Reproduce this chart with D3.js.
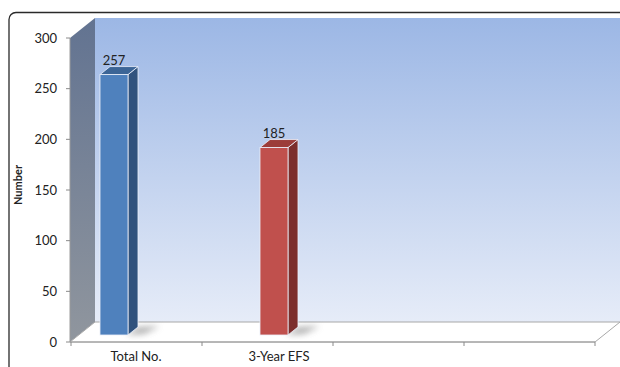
<!DOCTYPE html>
<html><head><meta charset="utf-8">
<script src="https://cdn.jsdelivr.net/npm/d3@7"></script>
<style>body{margin:0;background:#fff}svg{display:block}text{font-family:Lato,"Liberation Sans",sans-serif;fill:#222}</style>
</head><body>
<script>
const categories = ["Total No.", "3-Year EFS"];
const axisCategories = ["Total No.", "3-Year EFS", "", ""];
const values = [257, 185];
const barColors = [
  {front:"#4f81bd", side:"#30527d", top:"#3c6596"},
  {front:"#c0504d", side:"#7c2e2c", top:"#9c3c39"}
];
const yTicks = [0, 50, 100, 150, 200, 250, 300];
const yTitle = "Number";

const W = 620, H = 367;
const svg = d3.select("body").append("svg").attr("width", W).attr("height", H);
const defs = svg.append("defs");

const wallG = defs.append("linearGradient").attr("id","wall").attr("x1",0).attr("y1",0).attr("x2",0).attr("y2",1);
wallG.append("stop").attr("offset","0%").attr("stop-color","#9cb7e5");
wallG.append("stop").attr("offset","100%").attr("stop-color","#e6ecf8");
const sideG = defs.append("linearGradient").attr("id","side").attr("x1",0).attr("y1",0).attr("x2",0).attr("y2",1);
sideG.append("stop").attr("offset","0%").attr("stop-color","#627391");
sideG.append("stop").attr("offset","100%").attr("stop-color","#90969e");
defs.append("filter").attr("id","blur").attr("x","-50%").attr("y","-50%").attr("width","200%").attr("height","200%")
  .append("feGaussianBlur").attr("stdDeviation",3);

// 3D projection parameters
const DX = 25, DY = -20;           // wall depth
const x0 = 70, x1 = 595;           // front floor edge
const y = d3.scaleLinear().domain([0, 300]).range([342, 38]);
const xAxisScale = d3.scaleBand().domain(axisCategories.map((d,i)=>i)).range([x0+1, x1]);
const xBar = d3.scalePoint().domain(categories).range([105.25, 265.25]);
const labelX = d3.scalePoint().domain(categories).range([136, 279]);
const depthF = 0.35, barW = 28, bdx = 10, bdy = -8;

// frame
svg.append("rect").attr("x",9).attr("y",12.5).attr("width",700).attr("height",420).attr("rx",7)
  .attr("fill","#fff").attr("stroke","#2a2a2a").attr("stroke-width",1.3);

// back wall
svg.append("rect").attr("x", x0+DX).attr("y", y(300)+DY).attr("width", W - (x0+DX)).attr("height", y(0)-y(300))
  .attr("fill","url(#wall)");
// side wall
svg.append("polygon").attr("points", [[x0,y(0)],[x0,y(300)],[x0+DX,y(300)+DY],[x0+DX,y(0)+DY]].join(" "))
  .attr("fill","url(#side)");
// floor
svg.append("polygon").attr("points", [[x0,y(0)],[x1,y(0)],[x1+DX,y(0)+DY],[x0+DX,y(0)+DY]].join(" "))
  .attr("fill","#ffffff").attr("stroke","#a8a8a8").attr("stroke-width",1);

// shadows
svg.append("g").selectAll("polygon").data(categories).join("polygon")
  .attr("points",(d)=>{
    const fx = xBar(d) + depthF*DX + barW/2, fy = y(0) + depthF*DY;
    return [[fx-2,fy],[fx+bdx,fy+bdy],[fx+bdx+22,fy+bdy-1],[fx+16,fy-1]].join(" ");
  })
  .attr("fill","#808080").attr("opacity",0.6).attr("filter","url(#blur)");

// bars
const bars = svg.append("g").selectAll("g").data(categories).join("g");
bars.each(function(d,i){
  const g = d3.select(this);
  const fl = xBar(d) + depthF*DX - barW/2, fr = fl + barW;
  const fb = y(0) + depthF*DY, ft = y(values[i]) + depthF*DY;
  const c = barColors[i];
  const st = "rgba(235,240,250,0.9)";
  g.append("polygon").attr("points",[[fr,fb],[fr,ft],[fr+bdx,ft+bdy],[fr+bdx,fb+bdy]].join(" "))
    .attr("fill",c.side).attr("stroke",st).attr("stroke-width",0.9);
  g.append("polygon").attr("points",[[fl,ft],[fr,ft],[fr+bdx,ft+bdy],[fl+bdx,ft+bdy]].join(" "))
    .attr("fill",c.top).attr("stroke",st).attr("stroke-width",0.9);
  g.append("rect").attr("x",fl).attr("y",ft).attr("width",barW).attr("height",fb-ft)
    .attr("fill",c.front).attr("stroke",st).attr("stroke-width",0.9);
  g.append("text").attr("x",(fl+fr)/2).attr("y",ft+bdy-2).attr("text-anchor","middle")
    .attr("font-size",13).text(values[i]);
});

// y axis
const ya = svg.append("g");
ya.append("line").attr("x1",x0).attr("x2",x0).attr("y1",y(0)).attr("y2",y(300)).attr("stroke","#9a9a9a");
ya.selectAll("line.t").data(yTicks).join("line").attr("class","t")
  .attr("x1",x0-4).attr("x2",x0).attr("y1",d=>y(d)).attr("y2",d=>y(d)).attr("stroke","#8a8a8a");
ya.selectAll("text").data(yTicks).join("text")
  .attr("x",57).attr("y",d=>y(d)+4.5).attr("text-anchor","end").attr("font-size",13).text(d=>d);

// x axis
const xa = svg.append("g");
xa.append("line").attr("x1",x0).attr("x2",x1).attr("y1",y(0)).attr("y2",y(0)).attr("stroke","#9a9a9a");
const bounds = axisCategories.map((d,i)=>xAxisScale(i)).concat([x1]);
xa.selectAll("line.t").data(bounds).join("line").attr("class","t")
  .attr("x1",d=>d).attr("x2",d=>d).attr("y1",y(0)).attr("y2",y(0)+4).attr("stroke","#8a8a8a");
xa.selectAll("text").data(categories).join("text")
  .attr("x",d=>labelX(d)).attr("y",361).attr("text-anchor","middle").attr("font-size",13).text(d=>d);

// y title
svg.append("text").attr("transform","translate(22,185) rotate(-90)").attr("text-anchor","middle")
  .attr("font-size",11).attr("font-weight","bold").text(yTitle);
</script>
</body></html>
